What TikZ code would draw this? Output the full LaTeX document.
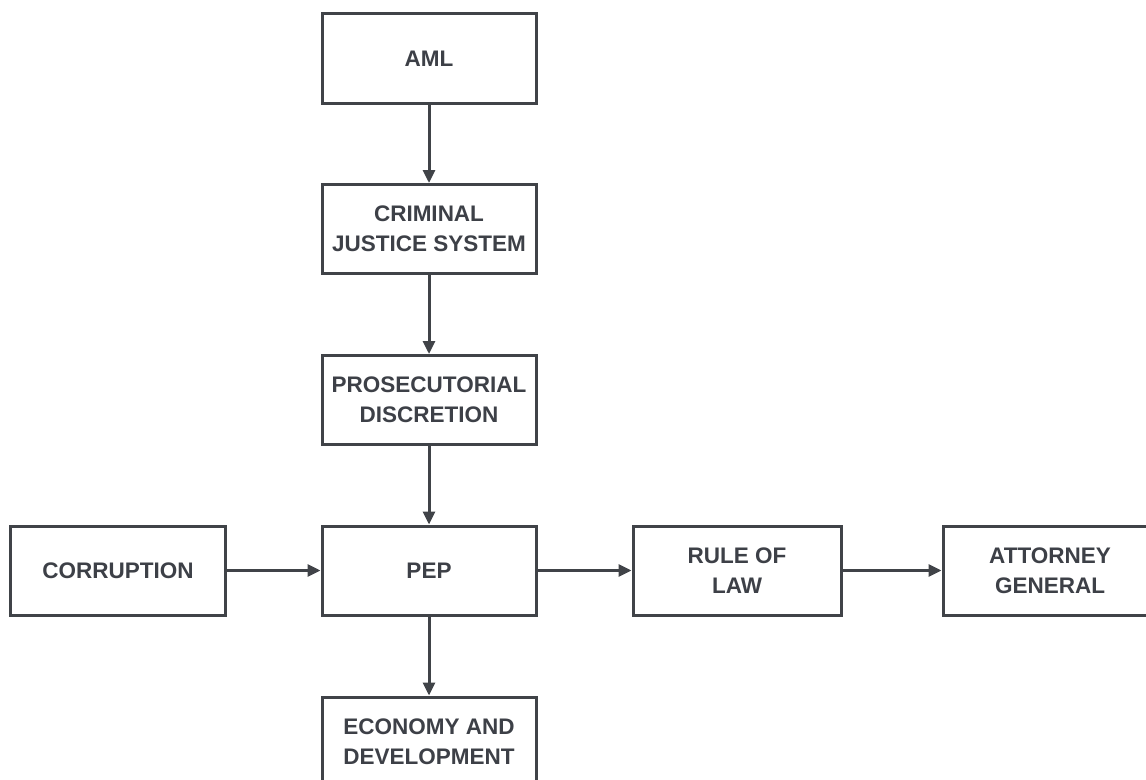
\documentclass[tikz,border=0pt]{standalone}
\usepackage{fontspec}
\setmainfont{Liberation Sans}
\usetikzlibrary{arrows.meta}
\definecolor{boxline}{HTML}{404348}
\definecolor{boxtext}{HTML}{3D4047}
\tikzset{
  box/.style={draw=boxline, line width=3bp, fill=white, minimum width=214bp, minimum height=89bp,
    inner sep=0pt, align=center, text=boxtext, font=\fontsize{22.5bp}{30bp}\selectfont\bfseries},
  conn/.style={draw=boxline, line width=3bp, -{Triangle[length=13bp,width=12bp]}}
}
\begin{document}
\begin{tikzpicture}[x=1bp,y=-1bp]
\useasboundingbox (0,0) rectangle (1146,780);
\begin{scope}
\clip (0,0) rectangle (1146,780);
\node[box] (aml) at (429,58.5) {AML};
\node[box] (cjs) at (429,229) {CRIMINAL\\JUSTICE SYSTEM};
\node[box] (pd) at (429,400) {PROSECUTORIAL\\DISCRETION};
\node[box] (pep) at (429,570.5) {PEP};
\node[box] (eco) at (429,741.5) {ECONOMY AND\\DEVELOPMENT};
\node[box] (cor) at (118,570.5) {CORRUPTION};
\node[box, minimum width=208bp] (rol) at (737,570.5) {RULE OF\\LAW};
\node[box] (ag) at (1050,570.5) {ATTORNEY\\GENERAL};
\draw[conn] (aml) -- (cjs);
\draw[conn] (cjs) -- (pd);
\draw[conn] (pd) -- (pep);
\draw[conn] (pep) -- (eco);
\draw[conn] (cor) -- (pep);
\draw[conn] (pep) -- (rol);
\draw[conn] (rol) -- (ag);
\end{scope}
\end{tikzpicture}
\end{document}
